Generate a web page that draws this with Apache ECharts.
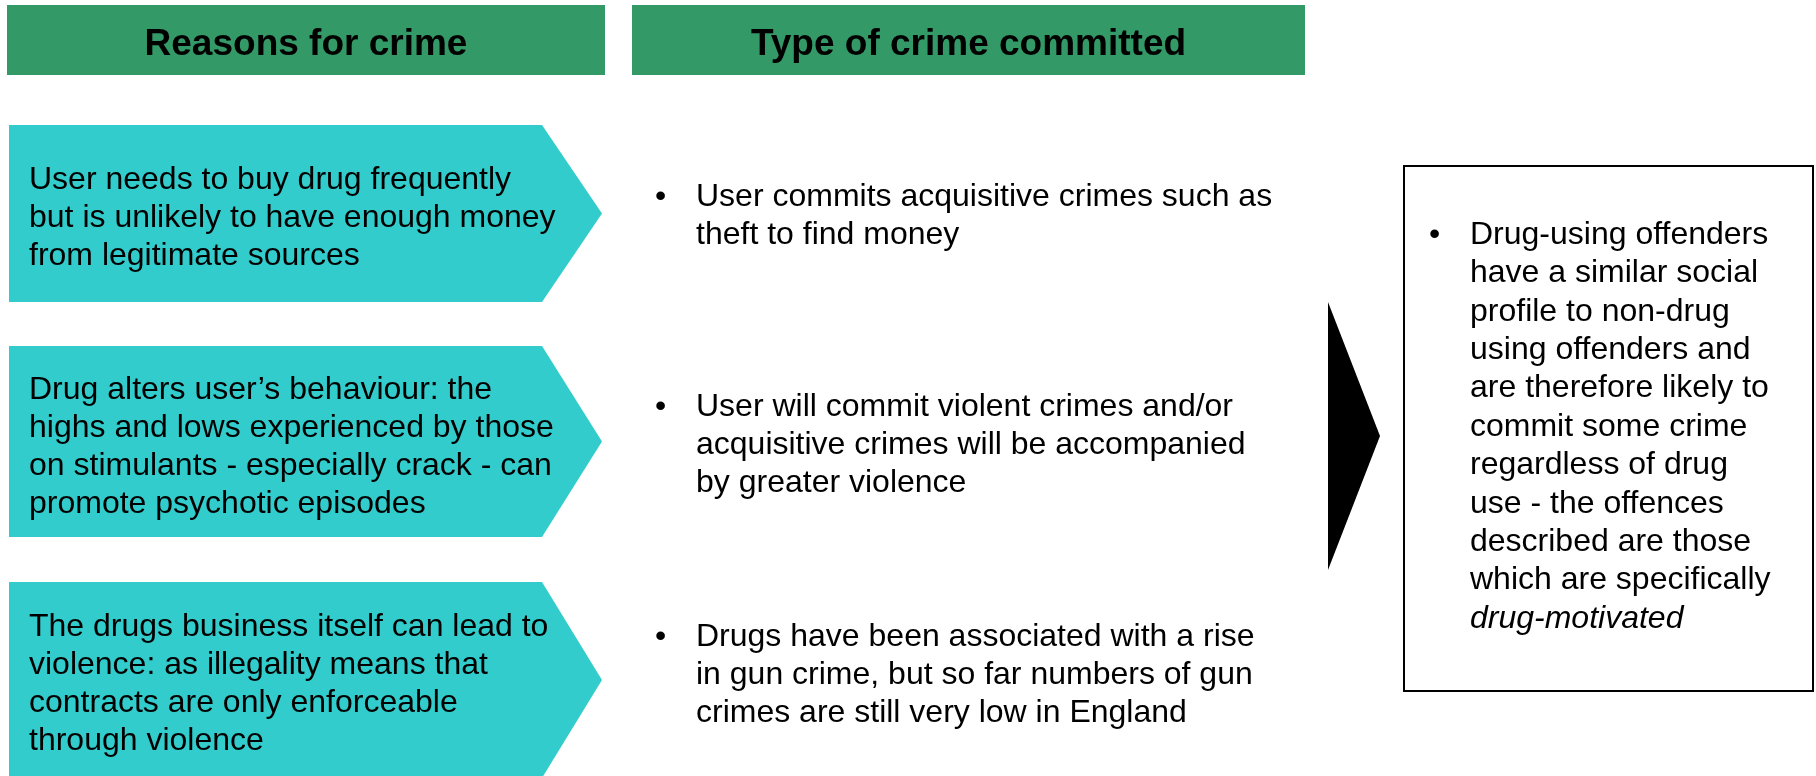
<!DOCTYPE html>
<html>
<head>
<meta charset="utf-8">
<title>Drugs and crime</title>
<script src="https://cdn.jsdelivr.net/npm/echarts@6/dist/echarts.min.js"></script>
<style>
  html, body { margin: 0; padding: 0; background: #fff; }
  #main { width: 1816px; height: 776px; }
</style>
</head>
<body>
<div id="main"></div>
<script>
// texts of the diagram
const headers = ['Reasons for crime', 'Type of crime committed']
const reasons = [
  ['User needs to buy drug frequently', 'but is unlikely to have enough money', 'from legitimate sources'],
  ['Drug alters user\u2019s behaviour: the', 'highs and lows experienced by those', 'on stimulants - especially crack - can', 'promote psychotic episodes'],
  ['The drugs business itself can lead to', 'violence: as illegality means that', 'contracts are only enforceable', 'through violence']
]
const crimeTypes = [
  ['User commits acquisitive crimes such as', 'theft to find money'],
  ['User will commit violent crimes and/or', 'acquisitive crimes will be accompanied', 'by greater violence'],
  ['Drugs have been associated with a rise', 'in gun crime, but so far numbers of gun', 'crimes are still very low in England']
]
const conclusionLines = [
  'Drug-using offenders', 'have a similar social', 'profile to non-drug', 'using offenders and',
  'are therefore likely to', 'commit some crime', 'regardless of drug', 'use - the offences',
  'described are those', 'which are specifically'
]
const conclusionItalic = 'drug-motivated'

// layout
const FONT = 'Arial, "Liberation Sans", sans-serif'
const GREEN = '#339966'
const TEAL = '#33CCCC'
const headerBoxes = [[7, 605], [632, 1305]]
const rows = [
  { top: 125, bottom: 302, text: 218, mid: 216 },
  { top: 346, bottom: 537, text: 447, mid: 445 },
  { top: 582, bottom: 778, text: 684, mid: 675 }
]
const chevLeft = 9, chevRight = 542, chevTip = 602
const LH = 38

const elements = []

headers.forEach((h, i) => {
  const [x0, x1] = headerBoxes[i]
  elements.push({
    type: 'rect',
    shape: { x: x0, y: 5, width: x1 - x0, height: 70 },
    style: { fill: GREEN }
  })
  elements.push({
    type: 'text',
    style: {
      text: h, x: (x0 + x1) / 2, y: 45,
      fontFamily: FONT, fontSize: 37, fontWeight: 'bold', fill: '#000',
      textAlign: 'center', textVerticalAlign: 'middle'
    }
  })
})

rows.forEach((r, i) => {
  const midY = (r.top + r.bottom) / 2
  elements.push({
    type: 'polygon',
    shape: { points: [[chevLeft, r.top], [chevRight, r.top], [chevTip, midY], [chevRight, r.bottom], [chevLeft, r.bottom]] },
    style: { fill: TEAL }
  })
  elements.push({
    type: 'text',
    style: {
      text: reasons[i].join('\n'), x: 29, y: r.text,
      fontFamily: FONT, fontSize: 32, lineHeight: LH, fill: '#000',
      textAlign: 'left', textVerticalAlign: 'middle'
    }
  })
  const n = crimeTypes[i].length
  elements.push({
    type: 'text',
    style: {
      text: '\u2022', x: 655, y: r.mid - (n - 1) * LH / 2,
      fontFamily: FONT, fontSize: 32, lineHeight: LH, fill: '#000',
      textAlign: 'left', textVerticalAlign: 'middle'
    }
  })
  elements.push({
    type: 'text',
    style: {
      text: crimeTypes[i].join('\n'), x: 696, y: r.mid,
      fontFamily: FONT, fontSize: 32, lineHeight: LH, fill: '#000',
      textAlign: 'left', textVerticalAlign: 'middle'
    }
  })
})

// black arrow
elements.push({
  type: 'polygon',
  shape: { points: [[1328, 302], [1380, 436], [1328, 570]] },
  style: { fill: '#000' }
})

// conclusion box
elements.push({
  type: 'rect',
  shape: { x: 1404, y: 166, width: 409, height: 525 },
  style: { fill: 'none', stroke: '#000', lineWidth: 2 }
})
const boxLH = 38.4
const boxCenter = 427
const nBox = conclusionLines.length + 1
elements.push({
  type: 'text',
  style: {
    text: '\u2022', x: 1429, y: boxCenter - (nBox - 1) * boxLH / 2,
    fontFamily: FONT, fontSize: 32, lineHeight: boxLH, fill: '#000',
    textAlign: 'left', textVerticalAlign: 'middle'
  }
})
elements.push({
  type: 'text',
  style: {
    text: conclusionLines.join('\n') + '\n{i|' + conclusionItalic + '}',
    x: 1470, y: boxCenter,
    fontFamily: FONT, fontSize: 32, lineHeight: boxLH, fill: '#000',
    textAlign: 'left', textVerticalAlign: 'middle',
    rich: {
      i: { fontFamily: FONT, fontSize: 32, fontStyle: 'italic', lineHeight: boxLH, fill: '#000' }
    }
  }
})

const chart = echarts.init(document.getElementById('main'), null, { renderer: 'canvas' })
chart.setOption({
  backgroundColor: '#fff',
  animation: false,
  graphic: { elements: elements }
})
</script>
</body>
</html>
